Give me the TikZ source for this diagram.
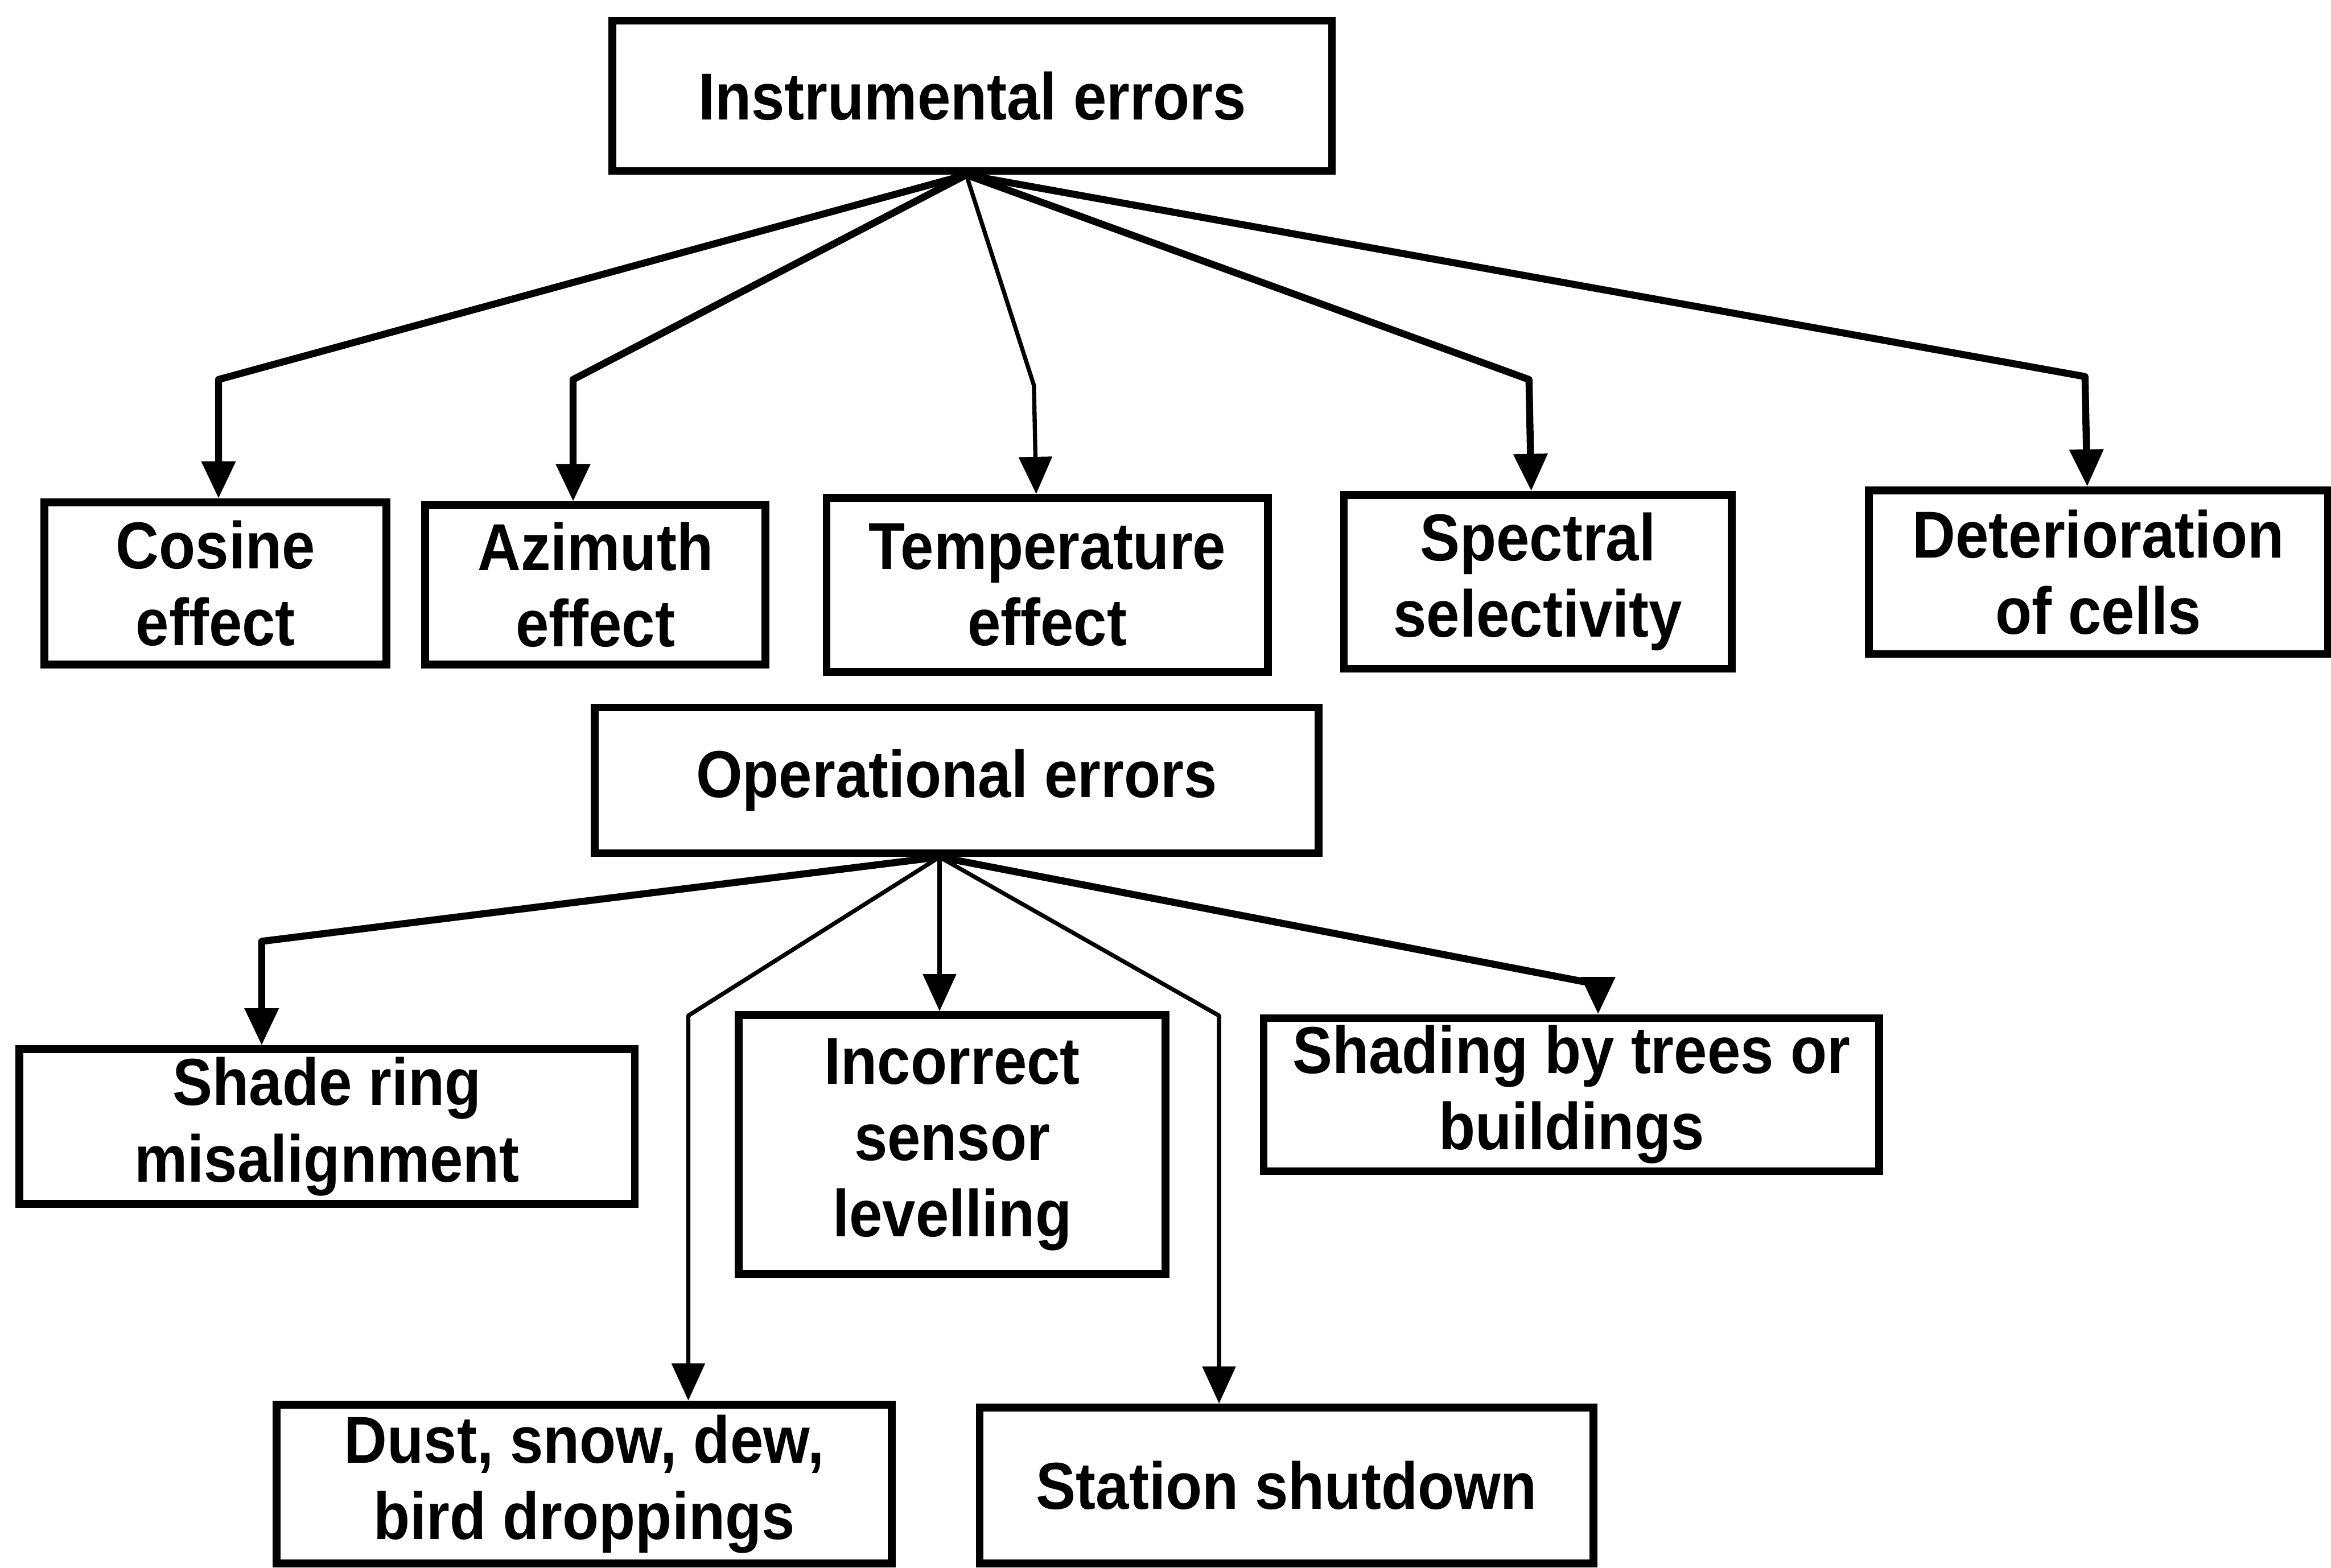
\documentclass[tikz,border=0pt]{standalone}
\usepackage{fontspec}
\setmainfont{Liberation Sans}[FakeStretch=0.9]
\usetikzlibrary{arrows.meta,positioning}

\begin{document}
\begin{tikzpicture}[
  errbox/.style={draw,line width=1.5pt,inner sep=1pt,align=center,font=\bfseries\fontsize{12.7}{14.6}\selectfont},
  conn/.style={-{Triangle[length=2.5mm,width=2.2mm]},line width=1.35pt,line join=round},
  thinconn/.style={conn,line width=0.8pt}
]
\useasboundingbox (0,0) rectangle (15.68,10.55);

% instrumental branch
\node[errbox,minimum width=4.84cm,minimum height=1.01cm] (instr) at (6.54,9.905) {Instrumental errors};
\node[errbox,minimum width=2.30cm,minimum height=1.09cm] (cosine) at (1.45,6.625) {Cosine\\effect};
\node[errbox,minimum width=2.29cm,minimum height=1.07cm] (azim) at (4.005,6.615) {Azimuth\\effect};
\node[errbox,minimum width=2.97cm,minimum height=1.17cm] (temp) at (7.045,6.615) {Temperature\\effect};
\node[errbox,minimum width=2.61cm,minimum height=1.17cm] (spec) at (10.345,6.635) {Spectral\\selectivity};
\node[errbox,minimum width=3.09cm,minimum height=1.10cm] (deter) at (14.115,6.70) {Deterioration\\of cells};

\coordinate (ihub) at ([xshift=-0.4mm]instr.south);
\draw[conn] (ihub) -- ([xshift=0.2mm,yshift=8mm]cosine.north) -- ([xshift=0.2mm]cosine.north);
\draw[conn] (ihub) -- ([xshift=-1.5mm,yshift=8.2mm]azim.north) -- ([xshift=-1.5mm]azim.north);
\draw[thinconn] (ihub) -- ([xshift=-0.9mm,yshift=7.3mm]temp.north) -- ([xshift=-0.75mm]temp.north);
\draw[conn] (ihub) -- ([xshift=-0.6mm,yshift=7.5mm]spec.north) -- ([xshift=-0.45mm]spec.north);
\draw[conn] (ihub) -- ([xshift=-0.9mm,yshift=7.4mm]deter.north) -- ([xshift=-0.75mm]deter.north);

% operational branch
\node[errbox,minimum width=4.87cm,minimum height=0.98cm] (oper) at (6.435,5.30) {Operational errors};
\node[errbox,minimum width=4.14cm,minimum height=1.04cm] (ring) at (2.20,2.97) {Shade ring\\misalignment};
\node[errbox,minimum width=2.87cm,minimum height=1.74cm] (level) at (6.405,2.85) {Incorrect\\sensor\\levelling};
\node[errbox,minimum width=4.14cm,minimum height=1.03cm] (trees) at (10.57,3.185) {Shading by trees or\\buildings};
\node[errbox,minimum width=4.14cm,minimum height=1.07cm] (dust) at (3.93,0.565) {Dust, snow, dew,\\bird droppings};
\node[errbox,minimum width=4.13cm,minimum height=1.05cm] (shut) at (8.655,0.555) {Station shutdown};

\coordinate (ohub) at ([xshift=-1.15mm]oper.south);
\draw[conn] (ohub) -- ([xshift=-4.4mm,yshift=7mm]ring.north) -- ([xshift=-4.4mm]ring.north);
\draw[thinconn] (ohub) -- ([xshift=7mm,yshift=25.9mm]dust.north) -- ([xshift=7mm]dust.north);
\draw[thinconn] (ohub) -- (ohub |- level.north);
\draw[thinconn] (ohub) -- ([xshift=-4.55mm,yshift=26.1mm]shut.north) -- ([xshift=-4.55mm]shut.north);
\draw[conn] (ohub) -- ([xshift=1.8mm,yshift=2mm]trees.north) -- ([xshift=1.8mm]trees.north);
\end{tikzpicture}
\end{document}
